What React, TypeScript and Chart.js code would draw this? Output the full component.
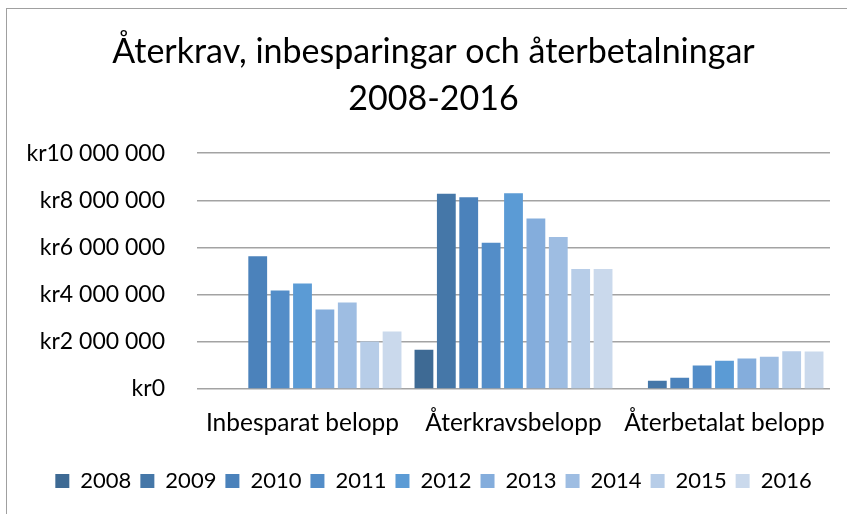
import React, { useEffect, useRef } from "react";
import { Chart, registerables } from "chart.js";

Chart.register(...registerables);

const categories = ["Inbesparat belopp", "Återkravsbelopp", "Återbetalat belopp"];
const years = ["2008", "2009", "2010", "2011", "2012", "2013", "2014", "2015", "2016"];
const inbesparat = [null, null, 5630000, 4180000, 4470000, 3370000, 3670000, 2010000, 2440000];
const aterkrav = [1660000, 8280000, 8130000, 6200000, 8300000, 7230000, 6450000, 5090000, 5090000];
const aterbetalat = [null, 350000, 480000, 1000000, 1200000, 1290000, 1370000, 1600000, 1590000];
const yearColors = ["#3E6A94", "#4577A8", "#4B82BB", "#538DC8", "#5B9BD5", "#84ADDC", "#9EBDE2", "#B7CDE8", "#CAD9EC"];
const titleLines = ["Återkrav, inbesparingar och återbetalningar", "2008-2016"];
const yTicks = [0, 2000000, 4000000, 6000000, 8000000, 10000000];

const FONT = "Lato, 'Open Sans', sans-serif";

function formatKr(v: number) {
  return "kr" + Math.round(v).toString().replace(/\B(?=(\d{3})+(?!\d))/g, " ");
}

export default function App() {
  const ref = useRef<HTMLCanvasElement | null>(null);
  useEffect(() => {
    if (!ref.current) return;
    const chart = new Chart(ref.current, {
      type: "bar",
      data: {
        labels: categories,
        datasets: years.map((y, i) => ({
          label: y,
          data: [inbesparat[i], aterkrav[i], aterbetalat[i]],
          backgroundColor: yearColors[i],
          borderWidth: 0,
          categoryPercentage: 0.955,
          barPercentage: 0.84,
        })),
      },
      options: {
        animation: false,
        responsive: false,
        maintainAspectRatio: false,
        layout: { padding: { left: 20, right: 0, top: 0, bottom: 12 } },
        plugins: {
          title: {
            display: true,
            text: titleLines,
            color: "#000",
            font: { family: FONT, size: 34, weight: "normal", lineHeight: 1.4 },
            padding: { top: 28, bottom: 30 },
          },
          legend: {
            position: "bottom",
            labels: {
              color: "#000",
              font: { family: FONT, size: 22 },
              boxWidth: 14,
              boxHeight: 14,
              padding: 9,
            },
          },
          tooltip: { enabled: false },
        },
        scales: {
          x: {
            afterFit: (s: any) => { s.height = 72; },
            grid: { display: false },
            border: { display: false },
            ticks: { color: "#000", font: { family: FONT, size: 24.5 }, padding: 11, maxRotation: 0 },
          },
          y: {
            min: 0,
            max: 10000000,
            afterFit: (s: any) => { s.width = 177; },
            afterBuildTicks: (s: any) => { s.ticks = yTicks.map((v) => ({ value: v })); },
            grid: { color: "#a3a3a3", lineWidth: 1.5, drawTicks: false },
            border: { display: false },
            ticks: {
              color: "#000",
              font: { family: FONT, size: 23 },
              padding: 32,
              callback: (v: any) => formatKr(Number(v)),
            },
          },
          y2: {
            position: "right",
            min: 0,
            max: 1,
            afterFit: (s: any) => { s.width = 17; },
            grid: { display: false, drawOnChartArea: false },
            border: { display: false },
            ticks: { display: false },
          },
        },
      },
    });
    return () => chart.destroy();
  }, []);
  return (
    <div style={{ position: "fixed", left: 0, top: 0, width: 847, height: 514, overflow: "hidden", background: "#fff" }}>
      <div style={{ position: "absolute", left: 6, top: 8, width: 1000, height: 1000, borderTop: "1px solid #a0a0a0", borderLeft: "1px solid #a0a0a0" }} />
      <canvas ref={ref} width={847} height={514} style={{ position: "absolute", left: 0, top: 0 }} />
    </div>
  );
}
